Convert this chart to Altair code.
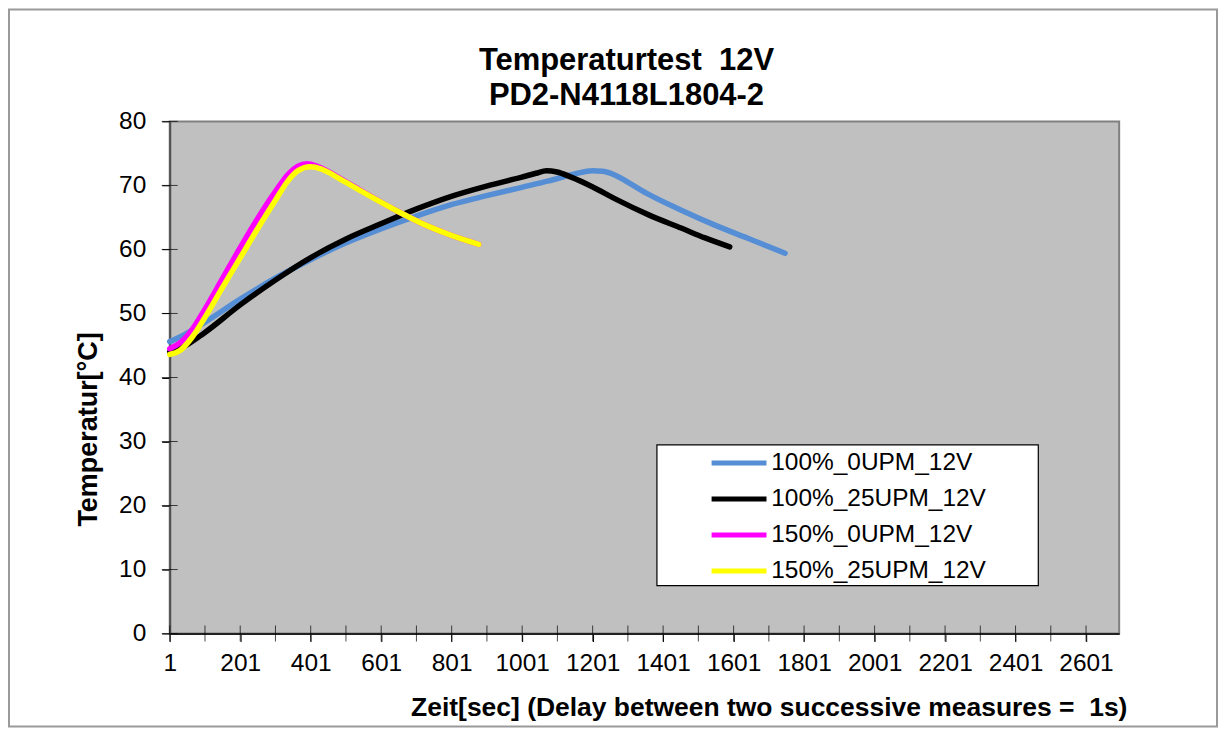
import altair as alt
import pandas as pd

# ---------------- data ----------------
series_names = ["100%_0UPM_12V", "100%_25UPM_12V", "150%_0UPM_12V", "150%_25UPM_12V"]
series_colors = ["#558ED5", "#000000", "#FF00FF", "#FFFF00"]

blue_t = [1, 40, 100, 200, 300, 400, 500, 600, 700, 800, 900, 1000, 1076, 1150, 1200, 1230, 1265, 1310, 1360, 1454, 1548, 1643, 1747]
blue_v = [45.6, 46.6, 48.6, 52.2, 55.5, 58.4, 61.0, 63.2, 65.2, 67.0, 68.4, 69.7, 70.7, 71.8, 72.3, 72.2, 71.6, 70.2, 68.6, 66.1, 63.8, 61.7, 59.4]

black_t = [1, 40, 100, 200, 300, 400, 500, 600, 700, 800, 900, 1000, 1040, 1070, 1100, 1140, 1200, 1265, 1360, 1454, 1520, 1590]
black_v = [44.0, 44.8, 47.0, 51.3, 55.2, 58.7, 61.6, 64.0, 66.3, 68.3, 69.9, 71.3, 71.9, 72.3, 72.1, 71.3, 69.8, 67.9, 65.4, 63.3, 61.8, 60.4]

magenta_t = [1, 30, 66, 100, 150, 200, 250, 300, 340, 365, 390, 420, 463, 500, 538, 633, 727, 800, 878]
magenta_v = [44.5, 45.4, 47.6, 50.6, 55.4, 60.2, 64.8, 69.0, 71.9, 73.0, 73.4, 73.0, 71.8, 70.6, 69.4, 66.4, 63.8, 62.2, 60.8]

yellow_t = [1, 30, 66, 100, 150, 200, 250, 300, 335, 365, 400, 430, 463, 500, 538, 633, 727, 800, 878]
yellow_v = [43.6, 44.2, 46.4, 49.3, 54.0, 58.6, 63.2, 67.6, 70.6, 72.3, 72.9, 72.6, 71.7, 70.5, 69.3, 66.4, 63.8, 62.2, 60.8]

x_ticks = list(range(1, 2602, 100))
y_ticks = list(range(0, 81, 10))

title_lines = ["Temperaturtest \u00a012V", "PD2-N4118L1804-2"]
x_title = "Zeit[sec] (Delay between two successive measures = \u00a01s)"
y_title = "Temperatur[°C]"

rows = []
for name, ts, vs in zip(series_names,
                        [blue_t, black_t, magenta_t, yellow_t],
                        [blue_v, black_v, magenta_v, yellow_v]):
    for t, v in zip(ts, vs):
        rows.append({"Serie": name, "t": t, "v": v})
df = pd.DataFrame(rows)

FONT = "Liberation Sans"

x_scale = alt.Scale(domain=[1, 2695], nice=False, zero=False)
y_scale = alt.Scale(domain=[0, 80], nice=False, zero=True)

lines = alt.Chart(df).mark_line(
    strokeWidth=5.5, interpolate="monotone", strokeCap="round", strokeJoin="round"
).encode(
    x=alt.X("t:Q", scale=x_scale, axis=alt.Axis(
        values=x_ticks,
        labelExpr="(datum.value - 1) % 200 == 0 ? format(datum.value, 'd') : ''",
        labelOverlap=False, labelFlush=False,
        labelFont=FONT, labelFontSize=24.5, labelColor="black", labelPadding=10,
        tickSize=8, tickColor="black", tickWidth=1,
        domainColor="#222222", domainWidth=2, grid=False,
        title=x_title, titleFont=FONT, titleFontSize=26.5, titleFontWeight="bold",
        titleColor="black", titleX=600, titleY=82, titleAlign="center",
        titleBaseline="alphabetic",
    )),
    y=alt.Y("v:Q", scale=y_scale, axis=alt.Axis(
        values=y_ticks, labelFlush=False,
        labelFont=FONT, labelFontSize=24.5, labelColor="black", labelPadding=16,
        tickSize=8, tickColor="black", tickWidth=1,
        domainColor="#505050", domainWidth=2, grid=False,
        title=y_title, titleFont=FONT, titleFontSize=27, titleFontWeight="bold",
        titleColor="black", titleX=-73, titleY=308, titleAlign="center",
        titleBaseline="alphabetic", titleAngle=270,
    )),
    color=alt.Color("Serie:N", scale=alt.Scale(domain=series_names, range=series_colors),
                    sort=series_names,
                    legend=alt.Legend(
                        title=None, orient="none", legendX=488, legendY=324,
                        padding=6,
                        symbolType="M-3,0H3", symbolSize=336, symbolStrokeWidth=5,
                        symbolOffset=64, labelOffset=20, rowPadding=11,
                        labelFont=FONT, labelFontSize=24.5, labelColor="black",
                        labelLimit=0,
                    )),
)

# legend frame (white box with black outline, as in the reference)
legend_box = alt.Chart(alt.Data(values=[{"a": 1}])).mark_rect(
    fill="white", stroke="black", strokeWidth=1.2
).encode(x=alt.value(488), x2=alt.value(870), y=alt.value(324), y2=alt.value(465))

xt = alt.Chart(pd.DataFrame({"t": x_ticks})).mark_tick(
    orient="vertical", color="black", thickness=1, size=16
).encode(x=alt.X("t:Q", scale=x_scale), y=alt.value(513))

yt = alt.Chart(pd.DataFrame({"v": y_ticks})).mark_tick(
    orient="horizontal", color="black", thickness=1, size=16
).encode(y=alt.Y("v:Q", scale=y_scale), x=alt.value(0))

border = alt.Chart(alt.Data(values=[{"a": 1}])).mark_rect(
    fillOpacity=0, stroke="#9a9a9a", strokeWidth=2
).encode(x=alt.value(-161), x2=alt.value(1049), y=alt.value(-112), y2=alt.value(606))

chart = alt.layer(border, lines, legend_box, xt, yt).properties(
    width=951, height=513,
    title=alt.TitleParams(
        text=title_lines, font=FONT, fontSize=31, fontWeight="bold", color="black",
        lineHeight=35, anchor="middle", frame="group", dx=-18, offset=-104,
    ),
    padding=0,
    background="white",
).configure_view(
    fill="#C0C0C0", stroke="#808080", strokeWidth=2
)

chart.save("out.html", embed_options={"renderer": "svg", "actions": False})
